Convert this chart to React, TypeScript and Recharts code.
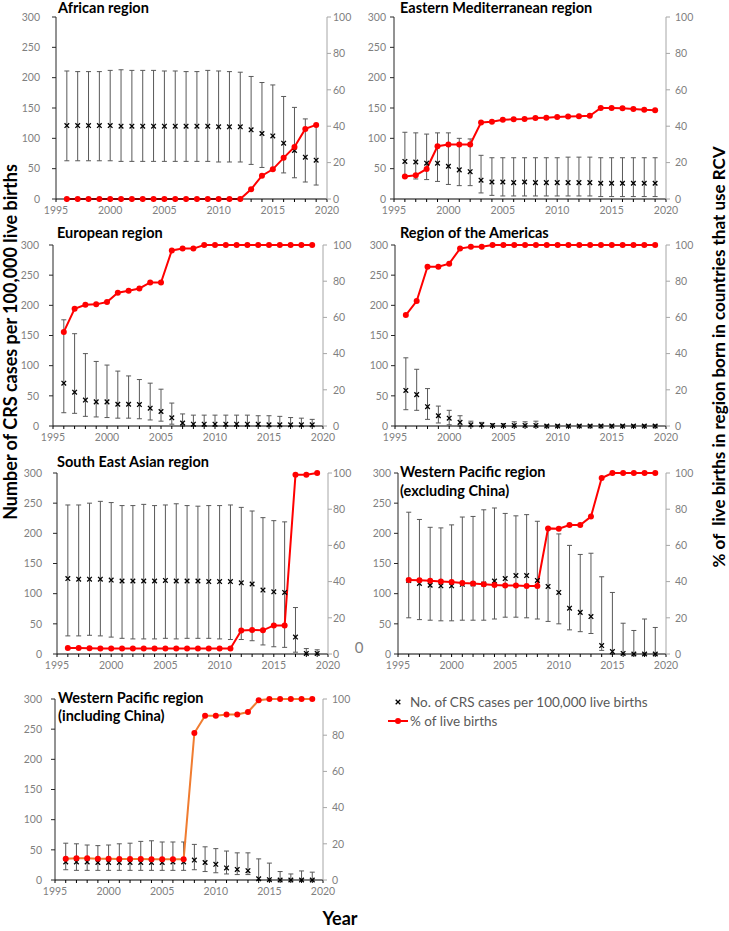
import React from "react";
import { ComposedChart, Scatter, Line, XAxis, YAxis, ErrorBar } from "recharts";

const years = [1996, 1997, 1998, 1999, 2000, 2001, 2002, 2003, 2004, 2005, 2006, 2007, 2008, 2009, 2010, 2011, 2012, 2013, 2014, 2015, 2016, 2017, 2018, 2019];
const yearTicks = [1995, 1996, 1997, 1998, 1999, 2000, 2001, 2002, 2003, 2004, 2005, 2006, 2007, 2008, 2009, 2010, 2011, 2012, 2013, 2014, 2015, 2016, 2017, 2018, 2019, 2020];
const crsTicks = [0, 50, 100, 150, 200, 250, 300];
const pctTicks = [0, 20, 40, 60, 80, 100];

// African region
const afrCrs = [121, 121, 121, 121, 121, 120, 120, 120, 120, 120, 120, 120, 120, 120, 119, 119, 119, 114, 108, 104, 92, 80, 69, 64];
const afrLow = [63, 63, 63, 63, 63, 62, 62, 62, 62, 62, 62, 62, 62, 62, 61, 61, 61, 57, 52, 47, 43, 35, 28, 23];
const afrHigh = [211, 210, 210, 210, 212, 213, 212, 212, 212, 211, 211, 210, 210, 212, 211, 210, 209, 202, 192, 188, 169, 151, 132, 121];
const afrPct = [0, 0, 0, 0, 0, 0, 0, 0, 0, 0, 0, 0, 0, 0, 0, 0, 0, 5.3, 12.8, 16.3, 22.6, 28.6, 38.5, 40.7];

// Eastern Mediterranean region
const emrCrs = [62, 61, 59, 59, 54, 48, 45, 31, 28, 28, 27, 28, 27, 27, 27, 27, 27, 27, 26, 26, 26, 26, 26, 26];
const emrLow = [36, 33, 32, 29, 24, 22, 22, 10, 6, 5, 5, 5, 5, 5, 5, 5, 5, 5, 4, 4, 4, 4, 4, 4];
const emrHigh = [110, 109, 107, 109, 109, 100, 99, 72, 68, 68, 68, 68, 68, 68, 68, 69, 69, 69, 68, 68, 68, 68, 68, 68];
const emrPct = [12.3, 13, 16.5, 29, 30, 30, 30, 42, 42.5, 43.5, 43.8, 44, 44.5, 44.7, 45, 45.3, 45.5, 45.7, 50, 50, 49.8, 49.5, 49, 48.7];

// European region
const eurCrs = [71, 56, 43, 40, 40, 36, 36, 35.5, 29.5, 24, 13.5, 5, 3, 3, 3, 3, 3, 3, 3, 2, 2, 2, 2, 2];
const eurLow = [22, 21, 16, 15, 14, 13, 13, 12, 10, 8, 3, 0, 0, 0, 0, 0, 0, 0, 0, 0, 0, 0, 0, 0];
const eurHigh = [176, 153, 120, 107, 101, 91, 83, 77, 71, 61, 38, 20, 18, 18, 18, 18, 18, 18, 17, 17, 16, 14, 13, 11];
const eurPct = [52, 64.8, 67, 67.2, 68.5, 73.6, 74.7, 76, 79.3, 79.3, 97, 98, 98, 100, 100, 100, 100, 100, 100, 100, 100, 100, 100, 100];

// Region of the Americas
const amrCrs = [59, 52, 32, 17, 13, 6, 2, 2, 1, 1, 1, 1, 1, 0, 0, 0, 0, 0, 0, 0, 0, 0, 0, 0];
const amrLow = [27, 26, 11, 5, 2, 0, 0, 0, 0, 0, 0, 0, 0, 0, 0, 0, 0, 0, 0, 0, 0, 0, 0, 0];
const amrHigh = [113, 94, 62, 33, 26, 17, 8, 6, 4, 4, 7, 7, 8, 2, 2, 2, 2, 2, 2, 2, 2, 2, 2, 2];
const amrPct = [61.3, 69, 88, 88, 89.7, 98, 99, 99, 100, 100, 100, 100, 100, 100, 100, 100, 100, 100, 100, 100, 100, 100, 100, 100];

// South East Asian region
const searCrs = [125, 124, 124, 124, 122.5, 121, 121, 121, 121, 122, 121, 121, 121, 120, 120, 120, 118, 116, 106, 103, 102, 28, 1, 1];
const searLow = [30, 30, 31, 30, 28, 26, 25, 25, 25, 26, 25, 26, 26, 26, 25, 24, 24, 22, 15, 12, 11, 3, 0, 0];
const searHigh = [247, 247, 250, 253, 251, 246, 246, 248, 246, 247, 249, 246, 245, 246, 246, 247, 243, 237, 226, 221, 219, 77, 9, 7];
const searPct = [3.3, 3.3, 3.2, 3, 3, 3, 3, 3, 3, 3, 3, 3, 3, 3, 3, 3, 13, 13.3, 13.1, 15.8, 15.8, 99, 99, 100];

// Western Pacific region (excluding China)
const wprxCrs = [122, 117, 114, 113, 113, 115.5, 116, 116, 121, 125, 130, 130, 122, 112, 102, 76, 69, 62, 14, 4, 1, 0, 0, 0];
const wprxLow = [60, 57, 56, 55, 55, 56, 56, 56, 58, 61, 61, 60, 58, 54, 50, 40, 37, 34, 6, 0, 0, 0, 0, 0];
const wprxHigh = [235, 223, 210, 209, 214, 227, 228, 239, 242, 233, 229, 231, 220, 209, 199, 180, 165, 167, 128, 102, 51, 39, 58, 44];
const wprxPct = [40.9, 40.7, 40.5, 40.1, 39.8, 39.2, 38.9, 38.5, 38.1, 37.9, 37.8, 37.6, 37.6, 69.4, 69.2, 71.3, 71.3, 75.9, 97.2, 100, 100, 100, 100, 100];

// Western Pacific region (including China)
const wprCrs = [30, 30, 30, 29, 29, 29, 29, 29, 29, 29, 30, 30, 33, 29, 26, 20, 17.5, 15.5, 2, 0.5, 0, 0, 0, 0];
const wprLow = [17, 16, 16, 16, 16, 16, 16, 16, 16, 16, 16, 16, 17, 14, 12, 10, 9, 9, 0, 0, 0, 0, 0, 0];
const wprHigh = [61, 60, 58, 57, 58, 60, 61, 64, 65, 63, 63, 63, 59, 55, 52, 48, 45, 45, 35, 28, 14, 10, 15, 13];
const wprPct = [11.8, 12, 12, 11.8, 11.8, 11.6, 11.6, 11.6, 11.4, 11.4, 11.4, 11.4, 81.2, 90.8, 90.8, 91.5, 91.5, 92.8, 99.3, 100, 100, 100, 100, 100];

const FONT = "Lato, 'Liberation Sans', sans-serif";
const GREY = "#7f7f7f";
const RED = "#ff0000";

function buildRows(crs: number[], low: number[], high: number[], pct: number[]) {
  return years.map((year, i) => ({
    year,
    crs: crs[i],
    err: [crs[i] - low[i], high[i] - crs[i]],
    pct: pct[i],
  }));
}

const XMark = (props: any) => {
  const { cx, cy } = props;
  if (cx == null || cy == null) return null;
  const s = 2.3;
  return (
    <path
      d={`M${cx - s},${cy - s}L${cx + s},${cy + s}M${cx - s},${cy + s}L${cx + s},${cy - s}`}
      stroke="#000"
      strokeWidth={1.3}
      fill="none"
    />
  );
};

interface Box {
  L: number;
  R: number;
  T: number;
  B: number;
}

function Panel({
  box,
  rows,
  lineColor = RED,
  leftGap,
  rightGap,
}: {
  box: Box;
  rows: ReturnType<typeof buildRows>;
  lineColor?: string;
  leftGap: number;
  rightGap: number;
}) {
  const wl = 50;
  const wr = 40;
  const mt = 10;
  const xh = 30;
  const width = box.R - box.L + wl + wr;
  const height = box.B - box.T + mt + xh;
  const tick = { fontSize: 10.5, fill: GREY, fontFamily: FONT };
  return (
    <div style={{ position: "absolute", left: box.L - wl, top: box.T - mt }}>
      <ComposedChart width={width} height={height} data={rows} margin={{ top: mt, right: 0, bottom: 0, left: 0 }}>
        <XAxis
          type="number"
          dataKey="year"
          domain={[1995, 2020]}
          ticks={yearTicks}
          interval={0}
          tickFormatter={(v: number) => (v % 5 === 0 ? String(v) : "")}
          height={xh}
          tick={tick}
          tickSize={3}
          tickMargin={5}
          stroke="#000"
          tickLine={{ stroke: "#000" }}
        />
        <YAxis
          yAxisId="l"
          orientation="left"
          width={wl}
          domain={[0, 300]}
          ticks={crsTicks}
          interval={0}
          tick={tick}
          tickSize={4}
          tickMargin={leftGap}
          stroke="#262626"
        />
        <YAxis
          yAxisId="r"
          orientation="right"
          width={wr}
          domain={[0, 100]}
          ticks={pctTicks}
          interval={0}
          tick={tick}
          tickSize={4}
          tickMargin={rightGap}
          stroke="#a6a6a6"
        />
        <Scatter yAxisId="l" dataKey="crs" shape={XMark} isAnimationActive={false}>
          <ErrorBar dataKey="err" direction="y" width={2.5} stroke="#595959" strokeWidth={1} />
        </Scatter>
        <Line
          yAxisId="r"
          dataKey="pct"
          type="linear"
          stroke={lineColor}
          strokeWidth={2}
          dot={{ r: 3, fill: RED, stroke: RED, strokeWidth: 0 }}
          activeDot={false}
          isAnimationActive={false}
        />
      </ComposedChart>
    </div>
  );
}

const titleStyle = { fontFamily: FONT, fontWeight: 700, fontSize: 14.5, fill: "#000" };

export default function App() {
  return (
    <div style={{ position: "absolute", left: 0, top: 0, width: 729, height: 931, background: "#fff" }}>
      <Panel box={{ L: 56, R: 327, T: 17, B: 199 }} rows={buildRows(afrCrs, afrLow, afrHigh, afrPct)} leftGap={12} rightGap={2} />
      <Panel box={{ L: 394, R: 666, T: 17, B: 199 }} rows={buildRows(emrCrs, emrLow, emrHigh, emrPct)} leftGap={4} rightGap={5} />
      <Panel box={{ L: 53, R: 323, T: 245, B: 426 }} rows={buildRows(eurCrs, eurLow, eurHigh, eurPct)} leftGap={10} rightGap={6} />
      <Panel box={{ L: 395, R: 666, T: 245, B: 426 }} rows={buildRows(amrCrs, amrLow, amrHigh, amrPct)} leftGap={3} rightGap={5} />
      <Panel box={{ L: 57, R: 328, T: 473, B: 654 }} rows={buildRows(searCrs, searLow, searHigh, searPct)} leftGap={11} rightGap={1} />
      <Panel box={{ L: 398, R: 666, T: 473, B: 654 }} rows={buildRows(wprxCrs, wprxLow, wprxHigh, wprxPct)} leftGap={3} rightGap={5} />
      <Panel box={{ L: 55, R: 323, T: 699, B: 880 }} rows={buildRows(wprCrs, wprLow, wprHigh, wprPct)} lineColor="#f07c30" leftGap={9} rightGap={5} />

      <svg width={729} height={931} style={{ position: "absolute", left: 0, top: 0, pointerEvents: "none" }}>
        <text x={58} y={13} style={titleStyle}>African region</text>
        <text x={400} y={13} style={titleStyle}>Eastern Mediterranean region</text>
        <text x={57} y={238} style={titleStyle}>European region</text>
        <text x={400} y={238} style={titleStyle}>Region of the Americas</text>
        <text x={57} y={467} style={titleStyle}>South East Asian region</text>
        <text x={400} y={477} style={titleStyle}>Western Pacific region</text>
        <text x={400} y={496} style={titleStyle}>(excluding China)</text>
        <text x={58} y={703} style={titleStyle}>Western Pacific region</text>
        <text x={58} y={721} style={titleStyle}>(including China)</text>

        <text x={359} y={647} dominantBaseline="central" textAnchor="middle" style={{ fontFamily: FONT, fontSize: 15, fill: GREY }}>0</text>

        <text
          transform="translate(10,342) rotate(-90)"
          textAnchor="middle"
          dominantBaseline="central"
          style={{ fontFamily: FONT, fontWeight: 700, fontSize: 18, fill: "#000" }}
        >
          Number of CRS cases per 100,000 live births
        </text>
        <text
          transform="translate(718,357) rotate(-90)"
          textAnchor="middle"
          dominantBaseline="central"
          style={{ fontFamily: FONT, fontWeight: 700, fontSize: 17, fill: "#000", whiteSpace: "pre" }}
        >
          {"% of  live births in region born in countries that use RCV"}
        </text>
        <text x={340} y={918} textAnchor="middle" dominantBaseline="central" style={{ fontFamily: FONT, fontWeight: 700, fontSize: 18, fill: "#000" }}>
          Year
        </text>

        <path d="M395.7,699.7L400.3,704.3M395.7,704.3L400.3,699.7" stroke="#000" strokeWidth={1.3} />
        <text x={410} y={702} dominantBaseline="central" style={{ fontFamily: FONT, fontSize: 13.5, fill: "#595959" }}>
          No. of CRS cases per 100,000 live births
        </text>
        <line x1={388} y1={721} x2={408} y2={721} stroke={RED} strokeWidth={2} />
        <circle cx={398} cy={721} r={3} fill={RED} />
        <text x={410} y={721} dominantBaseline="central" style={{ fontFamily: FONT, fontSize: 13.5, fill: "#595959" }}>
          % of live births
        </text>
      </svg>
    </div>
  );
}
